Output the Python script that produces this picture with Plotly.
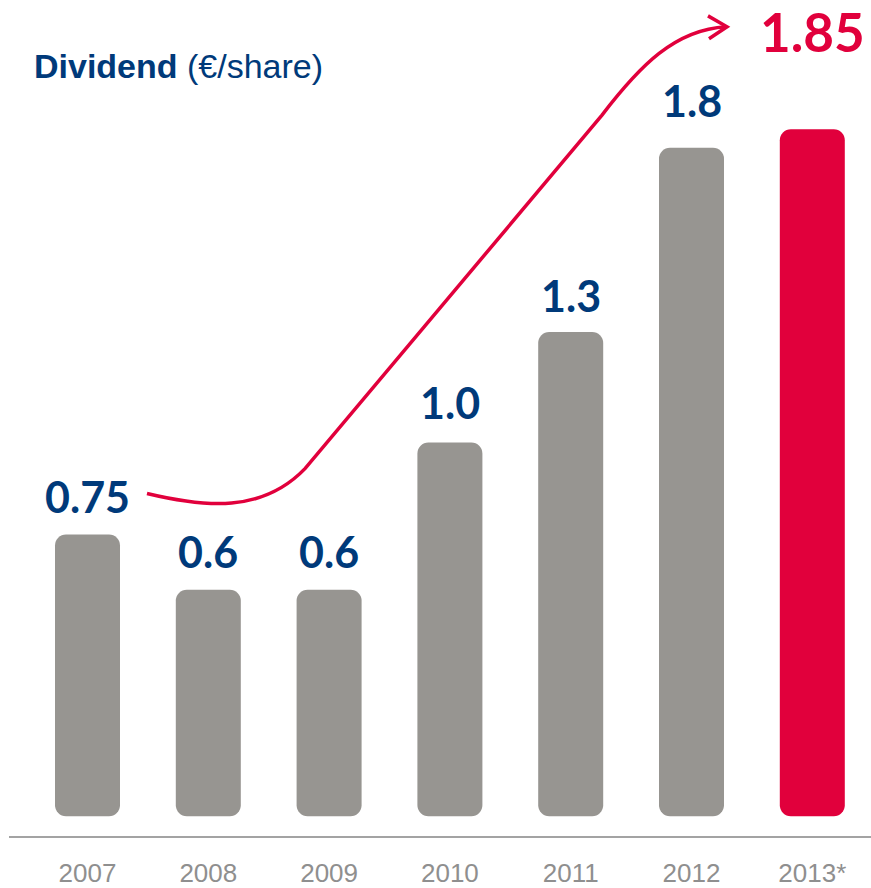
import plotly.graph_objects as go

# ---- data ----
years = ["2007", "2008", "2009", "2010", "2011", "2012", "2013*"]
dividends = [0.75, 0.6, 0.6, 1.0, 1.3, 1.8, 1.85]
value_labels = ["0.75", "0.6", "0.6", "1.0", "1.3", "1.8", "1.85"]

GRAY = "#979591"
RED = "#e1003c"
NAVY = "#003a7a"
TICK = "#8f8f8f"

W, H = 871, 888
PLOT_TOP, PLOT_BOTTOM = 0, 842
PLOT_LEFT, PLOT_RIGHT = 9, 871
ZERO_PX = 816.6      # pixel row of value 0
PX_PER_UNIT = 371.0
BAR_BOTTOM_PX = 822

bar_colors = [GRAY] * (len(years) - 1) + [RED]
bar_base = -(BAR_BOTTOM_PX - ZERO_PX) / PX_PER_UNIT

fig = go.Figure()
fig.add_trace(go.Bar(
    x=years, y=[v - bar_base for v in dividends], base=bar_base,
    marker=dict(color=bar_colors, line=dict(width=0), cornerradius=11),
    hoverinfo="skip",
))

# value labels (x given as category index)
offsets = [38, 38, 38, 40, 36, 47, 98]
for i, (v, lab) in enumerate(zip(dividends, value_labels)):
    last = i == len(years) - 1
    fig.add_annotation(
        x=i, y=v, text=f"<b>{lab}</b>", showarrow=False,
        xanchor="center", yanchor="middle", yshift=offsets[i],
        font=dict(family="Lato", size=53 if last else 43, color=RED if last else NAVY),
    )

# title
fig.add_annotation(
    xref="paper", yref="paper", x=(32 - PLOT_LEFT) / (PLOT_RIGHT - PLOT_LEFT),
    y=(PLOT_BOTTOM - 66) / (PLOT_BOTTOM - PLOT_TOP),
    text="<b>Dividend</b> (€/share)", showarrow=False,
    xanchor="left", yanchor="middle",
    font=dict(family="Liberation Sans", size=34, color=NAVY),
)

# decorative trend arrow (pixel -> paper)
def px(x):
    return (x - PLOT_LEFT) / (PLOT_RIGHT - PLOT_LEFT)

def py(y):
    return (PLOT_BOTTOM - y) / (PLOT_BOTTOM - PLOT_TOP)

def P(x, y):
    return f"{px(x):.5f},{py(y):.5f}"

curve = (f"M{P(147,497)} C{P(205,511)} {P(262,517)} {P(305,472)} "
         f"L{P(602,116)} C{P(640,66)} {P(675,30)} {P(726,27)}")
fig.add_shape(type="path", xref="paper", yref="paper", path=curve,
              line=dict(color=RED, width=3.5))
head = f"M{P(708,16)} L{P(727,27)} L{P(709,39)}"
fig.add_shape(type="path", xref="paper", yref="paper", path=head,
              line=dict(color=RED, width=3.5))

y_min = -(PLOT_BOTTOM - ZERO_PX) / PX_PER_UNIT
y_max = (ZERO_PX - PLOT_TOP) / PX_PER_UNIT

c0, step = 87.5, 120.8
fig.update_layout(
    width=W, height=H,
    margin=dict(l=PLOT_LEFT, r=W - PLOT_RIGHT, t=PLOT_TOP, b=H - PLOT_BOTTOM),
    plot_bgcolor="white", paper_bgcolor="white",
    bargap=1 - 65 / step,
    showlegend=False,
    xaxis=dict(
        type="category",
        range=[(PLOT_LEFT - c0) / step, (PLOT_RIGHT - c0) / step],
        showline=True, linecolor="#a3a3a3", linewidth=2,
        showgrid=False, zeroline=False, ticks="",
        tickfont=dict(family="Liberation Sans", size=26, color=TICK),
        ticklabelstandoff=13,
    ),
    yaxis=dict(range=[y_min, y_max], visible=False, showgrid=False, zeroline=False),
)

fig.write_html("out.html", config={"displayModeBar": False},
               post_script="document.body.style.margin='0';")
